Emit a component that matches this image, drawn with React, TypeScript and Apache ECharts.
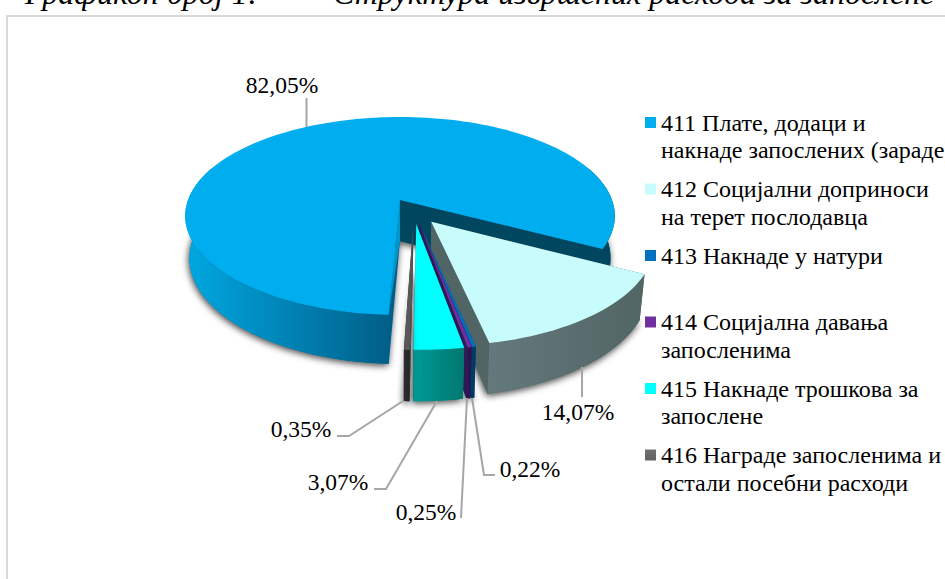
import React, { useEffect, useRef } from "react";
import * as echarts from "echarts";

const categories = [
  "411 Плате, додаци и\nнакнаде запослених (зараде)",
  "412 Социјални доприноси\nна терет послодавца",
  "413 Накнаде у натури",
  "414 Социјална давања\nзапосленима",
  "415 Накнаде трошкова за\nзапослене",
  "416 Награде запосленима и\nостали посебни расходи",
];
const values = [82.05, 14.07, 0.22, 0.25, 3.07, 0.35];

const topColors = ["#00AEEF", "#C8FBFB", "#0070C0", "#7030A0", "#00FFFF", "#585858"];
const wallFrom = ["#00A8E2", "#64797B", "#003F70", "#2E1A55", "#009A96", "#2C2C2C"];
const wallTo = ["#005F88", "#526565", "#003560", "#28144A", "#00786F", "#262626"];
const lowEdge = ["#00465F", "#526565", "#003F70", "#2E1A55", "#00808A", "#2C2C2C"];
const highEdge = ["#0096CC", "#526565", "#003F70", "#2E1A55", "#00808A", "#565656"];

const labelAnchors: number[][] = [
  [282, 85], [578, 412], [530, 469], [426, 512], [338, 482], [301, 429],
];
const leaders: number[][][] = [
  [[306.5, 98], [306.5, 127]],
  [[582, 367], [582, 397]],
  [[495, 475], [484, 475], [472, 398]],
  [[461, 518], [467, 398]],
  [[374, 489], [386, 489], [437, 401]],
  [[337, 436], [349, 436], [403, 401]],
];

const CX = 400, CY = 200, SX = 212, SY = 96.4, K = 0.1616, H0 = 41, BOTTOM_X = 0.98;
const EXPLODE = 0.13, START_DEG = 92.6;
const FONT = '"Liberation Serif", "Times New Roman", serif';
const total = values.reduce((a, b) => a + b, 0);
const rad = (d: number) => (d * Math.PI) / 180;

function sliceAngles(i: number) {
  let a = START_DEG;
  for (let j = 0; j < i; j++) a += (values[j] / total) * 360;
  return [a, a + (values[i] / total) * 360];
}
function explodeOffset(i: number) {
  const [a, b] = sliceAngles(i);
  const m = rad((a + b) / 2);
  const [a0, b0] = sliceAngles(0);
  const m0 = rad((a0 + b0) / 2);
  return [EXPLODE * (Math.cos(m) - Math.cos(m0)), EXPLODE * (Math.sin(m) - Math.sin(m0))];
}
function project(u: number, v: number, down: boolean) {
  const w = 1 - K * v;
  const X = u / w, Y = v / w;
  return [CX + SX * X * (down ? BOTTOM_X : 1), CY + SY * Y + (down ? H0 / w : 0)];
}
function arc(i: number, from: number, to: number, down: boolean) {
  const [ox, oy] = explodeOffset(i);
  const n = Math.max(1, Math.ceil(Math.abs(to - from) / 2));
  const pts: number[][] = [];
  for (let s = 0; s <= n; s++) {
    const t = rad(from + ((to - from) * s) / n);
    pts.push(project(ox + Math.cos(t), oy + Math.sin(t), down));
  }
  return pts;
}
const hGrad = (a: string, b: string) =>
  new echarts.graphic.LinearGradient(0, 0, 1, 0, [
    { offset: 0, color: a },
    { offset: 1, color: b },
  ]);
const poly = (points: number[][], style: any) => ({ type: "polygon", shape: { points }, style, silent: true });
const SHADOW = { shadowBlur: 7, shadowColor: "rgba(0,0,0,0.75)", shadowOffsetX: -1, shadowOffsetY: 2 };

function renderSlice(params: any) {
  const i = params.seriesIndex;
  const [a, b] = sliceAngles(i);
  const [ox, oy] = explodeOffset(i);
  const apexT = project(ox, oy, false);
  const apexB = project(ox, oy, true);
  const edge = (deg: number, color: string, tip: boolean) => {
    const t = rad(deg);
    const top = project(ox + Math.cos(t), oy + Math.sin(t), false);
    const bot = project(ox + Math.cos(t), oy + Math.sin(t), true);
    return poly(tip ? [apexT, top, apexB] : [apexT, top, bot, apexB], { fill: color });
  };
  const wall = (from: number, to: number, fill: any) =>
    poly([...arc(i, from, to, false), ...arc(i, from, to, true).reverse()], { fill });
  const topPts = [apexT, ...arc(i, a, b, false)];
  const children: any[] = [
    poly([apexB, ...arc(i, a, b, true)], { fill: wallTo[i], ...SHADOW }),
    edge(b, lowEdge[i], false),
    edge(a, highEdge[i], i === 0),
  ];
  if (i === 0) {
    children.push(wall(a, 200, hGrad(wallFrom[0], wallTo[0])));
    children.push(wall(340, b, lowEdge[0]));
  } else {
    children.push(wall(a, b, hGrad(wallFrom[i], wallTo[i])));
  }
  children.push(poly(topPts, { fill: topColors[i] }));
  children.push({
    type: "polyline",
    silent: true,
    shape: { points: leaders[i] },
    style: { stroke: "#A6A6A6", lineWidth: 2, fill: "none" },
  });
  children.push({
    type: "text",
    silent: true,
    style: {
      x: labelAnchors[i][0],
      y: labelAnchors[i][1],
      text: values[i].toFixed(2).replace(".", ",") + "%",
      fill: "#000",
      font: `23.5px ${FONT}`,
      align: "center",
      verticalAlign: "middle",
    },
  });
  return { type: "group", children };
}

const legendColor = (i: number) =>
  i === 5
    ? new echarts.graphic.LinearGradient(0, 0, 0, 1, [
        { offset: 0, color: "#707070" },
        { offset: 1, color: "#3C3C3C" },
      ])
    : topColors[i];

export default function App() {
  const ref = useRef<HTMLDivElement>(null);
  useEffect(() => {
    document.body.style.margin = "0";
    const chart = echarts.init(ref.current!, undefined, { renderer: "svg" });
    chart.setOption({
      animation: false,
      backgroundColor: "#fff",
      legend: {
        orient: "vertical",
        left: 640,
        top: 104,
        itemGap: 11.5,
        itemWidth: 11,
        itemHeight: 55,
        symbolKeepAspect: false,
        icon: "path://M0 0L0 0M0 8H11V19H0ZM0 55L0 55",
        selectedMode: false,
        data: categories.map((name, i) => ({ name, itemStyle: { color: legendColor(i) } })),
        formatter: (name: string) => (name.includes("\n") ? name : name + "\n "),
        textStyle: { fontFamily: FONT, fontSize: 24, lineHeight: 27.5, color: "#000" },
      },
      graphic: [
        {
          type: "rect",
          silent: true,
          shape: { x: 7, y: 16, width: 1000, height: 700 },
          style: { fill: "none", stroke: "#D9D9D9", lineWidth: 2 },
        },
        {
          type: "text",
          silent: true,
          style: { x: 25, y: -7, text: "Графикон број 1:", fill: "#000", font: `italic 32px ${FONT}`, verticalAlign: "middle" },
        },
        {
          type: "text",
          silent: true,
          style: { x: 333, y: -7, text: "Структура извршених расхода за запослене", fill: "#000", font: `italic 32px ${FONT}`, verticalAlign: "middle" },
        },
      ],
      series: categories.map((name, i) => ({
        type: "custom",
        name,
        coordinateSystem: "none",
        silent: true,
        itemStyle: { color: topColors[i] },
        data: [values[i]],
        renderItem: renderSlice,
      })),
    });
    return () => chart.dispose();
  }, []);
  return <div ref={ref} style={{ width: 945, height: 579, overflow: "hidden" }} />;
}
